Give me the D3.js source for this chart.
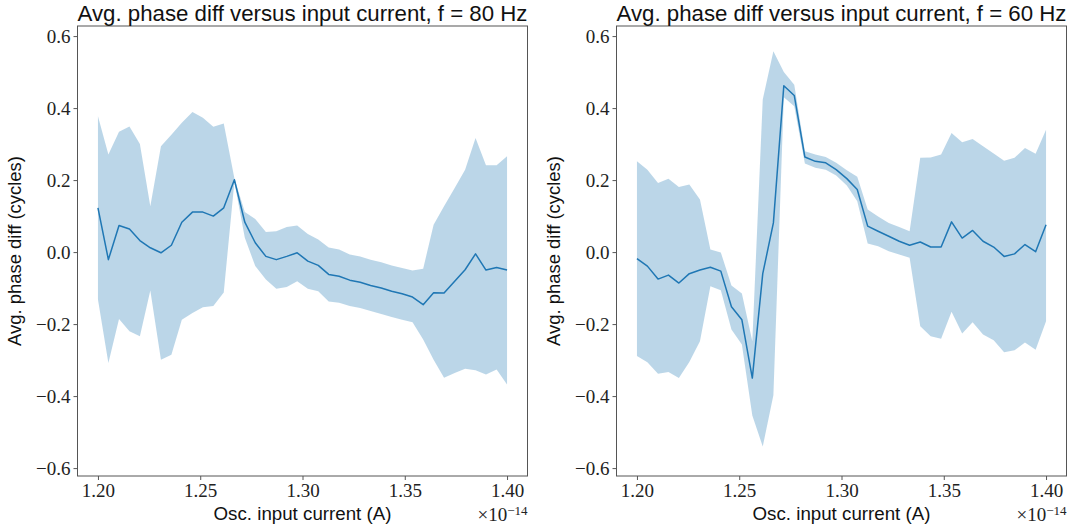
<!DOCTYPE html>
<html>
<head>
<meta charset="utf-8">
<script src="https://cdn.jsdelivr.net/npm/d3@7"></script>
<style>
  html, body { margin: 0; padding: 0; background: #fff; }
  svg { display: block; }
</style>
</head>
<body>
<svg id="chart" width="1072" height="527"></svg>
<script>
// ---- Data (current in units of 1e-14 A) ----
const current = [1.2000, 1.2051, 1.2103, 1.2154, 1.2205, 1.2256, 1.2308, 1.2359, 1.2410, 1.2462,
                 1.2513, 1.2564, 1.2615, 1.2667, 1.2718, 1.2769, 1.2821, 1.2872, 1.2923, 1.2974,
                 1.3026, 1.3077, 1.3128, 1.3179, 1.3231, 1.3282, 1.3333, 1.3385, 1.3436, 1.3487,
                 1.3538, 1.3590, 1.3641, 1.3692, 1.3744, 1.3795, 1.3846, 1.3897, 1.3949, 1.4000];

// f = 80 Hz
const mean80  = [0.123, -0.021, 0.074, 0.064, 0.032, 0.012, -0.002, 0.019, 0.083, 0.111,
                 0.111, 0.100, 0.123, 0.201, 0.083, 0.026, -0.012, -0.021, -0.012, -0.002,
                 -0.025, -0.037, -0.062, -0.067, -0.078, -0.084, -0.093, -0.100, -0.109, -0.116,
                 -0.125, -0.146, -0.113, -0.114, -0.081, -0.049, -0.005, -0.050, -0.043, -0.050];
const upper80 = [0.377, 0.271, 0.334, 0.349, 0.300, 0.127, 0.294, 0.326, 0.359, 0.389,
                 0.373, 0.348, 0.357, 0.205, 0.111, 0.092, 0.056, 0.058, 0.070, 0.074,
                 0.050, 0.035, 0.013, 0.007, -0.007, -0.012, -0.021, -0.028, -0.037, -0.044,
                 -0.051, -0.046, 0.076, 0.127, 0.178, 0.229, 0.317, 0.241, 0.241, 0.266];
const lower80 = [-0.132, -0.308, -0.186, -0.220, -0.234, -0.107, -0.299, -0.285, -0.188, -0.169,
                 -0.153, -0.150, -0.112, 0.195, 0.040, -0.039, -0.076, -0.102, -0.097, -0.081,
                 -0.102, -0.109, -0.137, -0.141, -0.150, -0.155, -0.164, -0.172, -0.180, -0.188,
                 -0.195, -0.243, -0.299, -0.349, -0.336, -0.324, -0.328, -0.340, -0.326, -0.368];

// f = 60 Hz
const mean60  = [-0.018, -0.039, -0.075, -0.064, -0.086, -0.060, -0.050, -0.042, -0.053, -0.152,
                 -0.188, -0.350, -0.060, 0.081, 0.462, 0.435, 0.264, 0.252, 0.248, 0.229,
                 0.204, 0.174, 0.072, 0.058, 0.044, 0.030, 0.019, 0.028, 0.014, 0.014,
                 0.084, 0.039, 0.060, 0.030, 0.014, -0.012, -0.005, 0.021, 0.001, 0.076];
const upper60 = [0.252, 0.229, 0.192, 0.204, 0.181, 0.188, 0.146, 0.007, -0.001, -0.093,
                 -0.115, -0.248, 0.424, 0.558, 0.500, 0.465, 0.280, 0.271, 0.264, 0.248,
                 0.227, 0.209, 0.118, 0.099, 0.081, 0.070, 0.058, 0.262, 0.263, 0.271,
                 0.331, 0.305, 0.314, 0.294, 0.274, 0.254, 0.262, 0.289, 0.273, 0.340];
const lower60 = [-0.289, -0.306, -0.338, -0.333, -0.350, -0.305, -0.248, -0.095, -0.106, -0.215,
                 -0.257, -0.454, -0.540, -0.398, 0.430, 0.405, 0.246, 0.234, 0.229, 0.213,
                 0.185, 0.141, 0.024, 0.016, 0.002, -0.007, -0.016, -0.206, -0.234, -0.241,
                 -0.166, -0.226, -0.195, -0.229, -0.245, -0.278, -0.273, -0.251, -0.271, -0.192];

const xTicks = [1.20, 1.25, 1.30, 1.35, 1.40];
const yTicks = [-0.6, -0.4, -0.2, 0.0, 0.2, 0.4, 0.6];
const titles = ["Avg. phase diff versus input current, f = 80 Hz",
                "Avg. phase diff versus input current, f = 60 Hz"];
const xLabel = "Osc. input current (A)";
const yLabel = "Avg. phase diff (cycles)";

// ---- Layout ----
const svg = d3.select("#chart");
const panels = [
  { left: 77.5, right: 527.5, mean: mean80, upper: upper80, lower: lower80, title: titles[0] },
  { left: 616.5, right: 1066.5, mean: mean60, upper: upper60, lower: lower60, title: titles[1] }
];
const plotTop = 26, plotBottom = 476;
const sansFont = "'Liberation Sans', Arial, sans-serif";
const serifFont = "'Liberation Serif', 'DejaVu Serif', serif";
const fillColor = "#1f77b4";
const lineColor = "#1f77b4";

function fitText(sel, target) {
  const node = sel.node();
  const w = node.getComputedTextLength();
  const fs = parseFloat(sel.attr("font-size"));
  if (w > 0) sel.attr("font-size", (fs * target / w).toFixed(2));
}

panels.forEach(p => {
  const x = d3.scaleLinear().domain([1.19, 1.41]).range([p.left, p.right]);
  const y = d3.scaleLinear().domain([-0.622, 0.628]).range([plotBottom, plotTop]);
  const g = svg.append("g");
  const data = current.map((c, i) => ({ c, m: p.mean[i], u: p.upper[i], l: p.lower[i] }));

  const area = d3.area().x(d => x(d.c)).y0(d => y(d.l)).y1(d => y(d.u));
  g.append("path").datum(data).attr("d", area)
    .attr("fill", fillColor).attr("fill-opacity", 0.3).attr("stroke", "none");

  const line = d3.line().x(d => x(d.c)).y(d => y(d.m));
  g.append("path").datum(data).attr("d", line)
    .attr("fill", "none").attr("stroke", lineColor).attr("stroke-width", 1.5)
    .attr("stroke-linejoin", "round");

  const xAxis = d3.axisBottom(x).tickValues(xTicks).tickSize(4).tickPadding(3)
    .tickFormat(d => d.toFixed(2));
  const yAxis = d3.axisLeft(y).tickValues(yTicks).tickSize(4).tickPadding(3)
    .tickFormat(d => (d < -1e-9 ? "\u2212" : "") + Math.abs(d).toFixed(1));

  const gx = g.append("g").attr("transform", `translate(0,${plotBottom})`).call(xAxis);
  const gy = g.append("g").attr("transform", `translate(${p.left},0)`).call(yAxis);
  [gx, gy].forEach(a => {
    a.select(".domain").remove();
    a.selectAll(".tick line").attr("stroke", "#444").attr("stroke-width", 0.9);
    a.selectAll(".tick text").attr("fill", "#222").attr("font-family", serifFont)
      .attr("font-size", 19);
  });
  gx.selectAll(".tick text").attr("dy", "0.74em");

  g.append("rect").attr("x", p.left).attr("y", plotTop)
    .attr("width", p.right - p.left).attr("height", plotBottom - plotTop)
    .attr("fill", "none").attr("stroke", "#555").attr("stroke-width", 1);

  const t = g.append("text").attr("x", (p.left + p.right) / 2).attr("y", 21)
    .attr("text-anchor", "middle").attr("font-family", sansFont).attr("font-size", 20)
    .attr("fill", "#111").text(p.title);
  fitText(t, 450);

  const xl = g.append("text").attr("x", (p.left + p.right) / 2).attr("y", 520)
    .attr("text-anchor", "middle").attr("font-family", sansFont).attr("font-size", 19)
    .attr("fill", "#111").text(xLabel);
  fitText(xl, 178);

  const off = g.append("text").attr("x", p.right).attr("y", 521)
    .attr("text-anchor", "end").attr("font-family", serifFont).attr("font-size", 19)
    .attr("fill", "#222");
  off.append("tspan").text("\u00d710");
  off.append("tspan").attr("dy", -6).attr("font-size", 13).text("\u221214");

  const cx = p.left - 57, cy = (plotTop + plotBottom) / 2;
  const yl = g.append("text").attr("transform", `translate(${cx},${cy}) rotate(-90)`)
    .attr("text-anchor", "middle").attr("font-family", sansFont).attr("font-size", 19)
    .attr("fill", "#111").text(yLabel);
  fitText(yl, 190);
});
</script>
</body>
</html>
